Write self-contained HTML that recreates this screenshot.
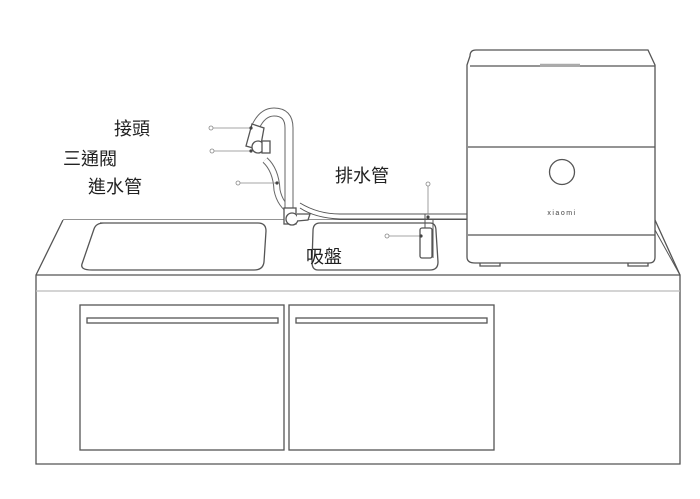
<!DOCTYPE html>
<html><head><meta charset="utf-8"><style>
html,body{margin:0;padding:0;background:#fff;width:700px;height:499px;overflow:hidden}
svg{display:block}
text{font-family:"Liberation Sans","Noto Sans CJK TC",sans-serif;fill:#222}
</style></head><body>
<svg width="700" height="499" viewBox="0 0 700 499" xmlns="http://www.w3.org/2000/svg">
<g fill="none" stroke="#555" stroke-width="1.3">
<path d="M63,220 L655,220"/>
<path d="M63,220 L36,275 L36,464 L680,464 L680,275 L655,220" fill="#fff"/>
<path d="M36,275 L680,275"/>
<path d="M36,291 L680,291" stroke="#bbb"/>
<rect x="80" y="305" width="204" height="145"/>
<rect x="289" y="305" width="205" height="145"/>
<rect x="87" y="318" width="191" height="5"/>
<rect x="296" y="318" width="191" height="5"/>
<path d="M100,223 L258,223 Q266,223 266,231 L264,262 Q263,270 254,270 L92,270 Q80,270 82,264 L94,229 Q96,223 104,223 Z"/>
<path d="M320,223 L430,223 Q436,223 436,231 L438,262 Q438,270 430,270 L318,270 Q312,270 312,262 L313,231 Q313,223 320,223 Z"/>
<path d="M300,208 Q315,218 340,219 L467,219" stroke-width="1"/>
<path d="M300,203 Q318,214 340,214 L467,214" stroke-width="1"/>
<path d="M425,214 L425,258 M433,219 L433,258" stroke-width="1"/>
<rect x="420" y="228" width="12" height="30" rx="2" fill="#fff"/>
<path d="M265,160 Q276,170 277,190 Q280,205 292,212" stroke="#666" stroke-width="7"/>
<path d="M265,160 Q276,170 277,190 Q280,205 292,212" stroke="#fff" stroke-width="5"/>
<path d="M289,216 L289,128 Q289,112 274,112 Q262,112 255,128" stroke="#666" stroke-width="9"/>
<path d="M289,216 L289,128 Q289,112 274,112 Q262,112 255,128" stroke="#fff" stroke-width="7"/>
<rect x="284" y="208" width="12" height="16" fill="#fff"/>
<circle cx="292" cy="219" r="6" fill="#fff"/>
<path d="M297,214 L310,214 L308,220 L297,221" fill="#fff"/>
<path d="M252,124 L264,128 L260,150 L246,146 Z" fill="#fff"/>
<circle cx="258" cy="147" r="6" fill="#fff"/>
<rect x="262" y="141" width="8" height="12" fill="#fff"/>
<path d="M470,56 Q470,50 476,50 L648,50 L655,65 L655,257 Q655,263 649,263 L475,263 Q467,263 467,257 L467,65 Z" fill="#fff"/>
<path d="M470,66 L655,66"/>
<path d="M540,65 L580,65" stroke-width="2.5" stroke="#aaa"/>
<path d="M468,147 L655,147"/>
<path d="M468,235 L655,235"/>
<circle cx="562" cy="172" r="12.5"/>
<path d="M480,263 L480,266 L500,266 L500,263 M628,263 L628,266 L648,266 L648,263"/>
<path d="M655,230 L680,275" stroke-width="1"/>
</g>
<text x="562" y="215" font-size="7" text-anchor="middle" letter-spacing="1.5" style="fill:#444">xiaomi</text>
<g stroke="#888" stroke-width="0.8" fill="#fff">
<path d="M213,128 L251,128 M214,151 L251,151 M240,183 L277,183 M428,186 L428,214 M388,236 L421,236"/>
<circle cx="211" cy="128" r="2"/><circle cx="212" cy="151" r="2"/><circle cx="238" cy="183" r="2"/>
<circle cx="428" cy="184" r="2"/><circle cx="387" cy="236" r="2"/>
</g>
<g fill="#444"><circle cx="251" cy="128" r="1.6"/><circle cx="251" cy="151" r="1.6"/><circle cx="277" cy="183" r="1.6"/><circle cx="428" cy="217" r="1.6"/><circle cx="421" cy="236" r="1.6"/></g>
<g font-size="18">
<text x="114" y="135">接頭</text>
<text x="63" y="165">三通閥</text>
<text x="88" y="193">進水管</text>
<text x="335" y="182">排水管</text>
<text x="306" y="263">吸盤</text>
</g>
</svg>
</body></html>
